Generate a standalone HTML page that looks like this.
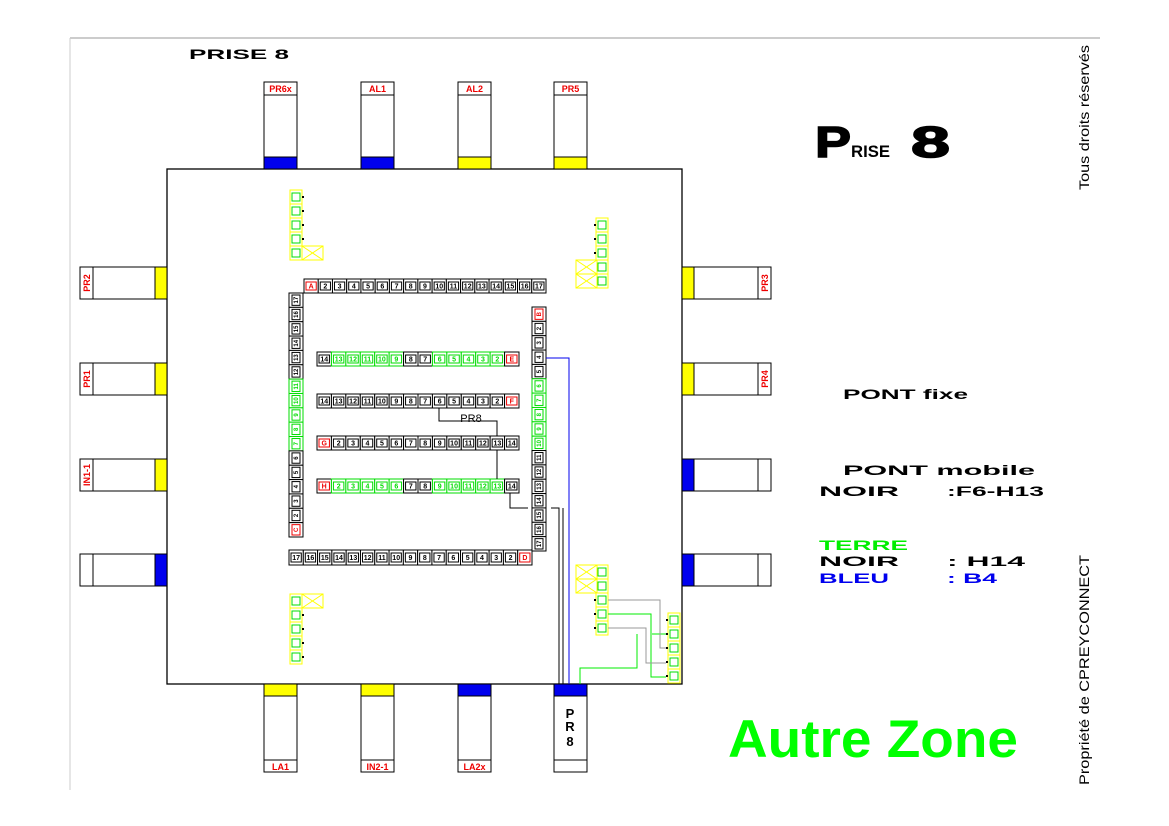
<!DOCTYPE html>
<html><head><meta charset="utf-8"><style>
html,body{margin:0;padding:0;background:#fff;}
svg{display:block;}
text{font-family:"Liberation Sans",sans-serif;}
</style></head><body>
<svg id="s" width="1169" height="826" viewBox="0 0 1169 826" xmlns="http://www.w3.org/2000/svg">
<line x1="70" y1="38" x2="1100" y2="38" stroke="#999" stroke-width="1"/>
<line x1="70" y1="38" x2="70" y2="790" stroke="#ccc" stroke-width="1"/>
<rect x="167" y="169" width="515" height="515" fill="none" stroke="#000" stroke-width="1.3"/>
<text x="189" y="59" font-size="14" font-weight="bold" textLength="100" lengthAdjust="spacingAndGlyphs">PRISE 8</text>
<text x="815" y="157" font-size="44" font-weight="bold" textLength="36" lengthAdjust="spacingAndGlyphs" stroke="#000" stroke-width="1.5">P</text>
<text x="851" y="157" font-size="17" font-weight="bold" textLength="39" lengthAdjust="spacingAndGlyphs">RISE</text>
<text x="911" y="157" font-size="44" font-weight="bold" textLength="39" lengthAdjust="spacingAndGlyphs" stroke="#000" stroke-width="1.5">8</text>
<text x="843" y="399" font-size="14" font-weight="bold" textLength="125" lengthAdjust="spacingAndGlyphs">PONT fixe</text>
<text x="843" y="475" font-size="14" font-weight="bold" textLength="192" lengthAdjust="spacingAndGlyphs">PONT mobile</text>
<text x="819" y="496" font-size="14" font-weight="bold" textLength="80" lengthAdjust="spacingAndGlyphs">NOIR</text>
<text x="947" y="496" font-size="14" font-weight="bold" textLength="97" lengthAdjust="spacingAndGlyphs">:F6-H13</text>
<text x="819" y="550" font-size="14" font-weight="bold" fill="#00ee00" textLength="89" lengthAdjust="spacingAndGlyphs">TERRE</text>
<text x="819" y="566" font-size="14" font-weight="bold" textLength="80" lengthAdjust="spacingAndGlyphs">NOIR</text>
<text x="947" y="566" font-size="14" font-weight="bold" textLength="78" lengthAdjust="spacingAndGlyphs">: H14</text>
<text x="819" y="583" font-size="14" font-weight="bold" fill="#0000ee" textLength="70" lengthAdjust="spacingAndGlyphs">BLEU</text>
<text x="947" y="583" font-size="14" font-weight="bold" fill="#0000ee" textLength="50" lengthAdjust="spacingAndGlyphs">: B4</text>
<text x="728" y="757" font-size="53" font-weight="bold" fill="#00ff00" textLength="290" lengthAdjust="spacingAndGlyphs">Autre Zone</text>
<text transform="translate(1089,190) rotate(-90)" font-size="14" textLength="145" lengthAdjust="spacingAndGlyphs">Tous droits réservés</text>
<text transform="translate(1089,785) rotate(-90)" font-size="14" textLength="230" lengthAdjust="spacingAndGlyphs">Propriété de CPREYCONNECT</text>
<text x="471" y="422" font-size="11" text-anchor="middle">PR8</text>
<g id="g"></g>
</svg>
<script>
var g=document.getElementById('g'),h='';
function R(x,y,w,hh,f,s,sw){h+='<rect x="'+x+'" y="'+y+'" width="'+w+'" height="'+hh+'" fill="'+(f||'none')+'" stroke="'+(s||'#000')+'" stroke-width="'+(sw||1)+'"/>';}
function L(p,c,w){h+='<polyline points="'+p+'" fill="none" stroke="'+c+'" stroke-width="'+(w||1)+'"/>';}
function T(x,y,t,c,sz,extra){h+='<text x="'+x+'" y="'+y+'" font-size="'+sz+'" fill="'+c+'" text-anchor="middle" font-weight="bold" '+(extra||'')+'>'+t+'</text>';}
var Y='#ffff00',B='#0000ee';
[[264,'PR6x',B],[361,'AL1',B],[458,'AL2',Y],[554,'PR5',Y]].forEach(function(a){R(a[0],82,33,13,'#fff');R(a[0],95,33,62,'#fff');R(a[0],157,33,12,a[2]);T(a[0]+16.5,92,a[1],'#e00',9);});
[[264,'LA1',Y],[361,'IN2-1',Y],[458,'LA2x',B],[554,'',B]].forEach(function(a){R(a[0],684,33,12,a[2]);R(a[0],696,33,64,'#fff');R(a[0],760,33,12,'#fff');T(a[0]+16.5,770,a[1],'#e00',9);});
T(570,718,'P','#000',13);T(570,731,'R','#000',13);T(570,746,'8','#000',13);
[[267,'PR2',Y],[363,'PR1',Y],[459,'IN1-1',Y],[554,'',B]].forEach(function(a){R(80,a[0],13,32,'#fff');R(93,a[0],62,32,'#fff');R(155,a[0],12,32,a[2]);T(0,0,a[1],'#e00',9,'transform="translate(90,'+(a[0]+16)+') rotate(-90)"');});
[[267,'PR3',Y],[363,'PR4',Y],[459,'',B],[554,'',B]].forEach(function(a){R(682,a[0],12,32,a[2]);R(694,a[0],64,32,'#fff');R(758,a[0],13,32,'#fff');T(0,0,a[1],'#e00',9,'transform="translate(768,'+(a[0]+16)+') rotate(-90)"');});
function C(x,y,w,hh,lab,col,vert){
 var c=col=='r'?'#e00':(col=='g'?'#00dd00':'#000');var sc=col=='g'?'#00dd00':'#000';
 R(x,y,w,hh,'#fff',sc,1);
 if(vert){R(x+3,y+2,w-6,hh-4,'none',c,1);T(0,0,lab,c,6,'transform="translate('+(x+w/2+2)+','+(y+hh/2)+') rotate(-90)" font-weight="normal"');}
 else{R(x+2,y+3,w-4,hh-6,'none',c,1);T(x+w/2,y+hh/2+2.5,lab,c,7,'font-weight="normal"');}
}
var i,w;
w=242/17;for(i=0;i<17;i++)C(304+i*w,279,w,14,i==0?'A':i+1,i==0?'r':'k');
w=244/17;for(i=0;i<17;i++){var n=17-i;C(289,293+i*w,14,w,i==16?'C':n,i==16?'r':(n>=7&&n<=11?'g':'k'),1);}
for(i=0;i<17;i++){var n=i+1;C(532,307+i*w,14,w,i==0?'B':n,i==0?'r':(n>=6&&n<=10?'g':'k'),1);}
w=243/17;for(i=0;i<17;i++){var n=17-i;C(289+i*w,550,w,15,i==16?'D':n,i==16?'r':'k');}
w=202/14;
for(i=0;i<14;i++){var n=14-i;C(317+i*w,352,w,14,i==13?'E':n,i==13?'r':((n>=9&&n<=13)||(n>=2&&n<=6)?'g':'k'));}
for(i=0;i<14;i++){var n=14-i;C(317+i*w,394,w,14,i==13?'F':n,i==13?'r':'k');}
for(i=0;i<14;i++){var n=i+1;C(317+i*w,436,w,14,i==0?'G':n,i==0?'r':'k');}
for(i=0;i<14;i++){var n=i+1;C(317+i*w,479,w,14,i==0?'H':n,i==0?'r':((n>=2&&n<=6)||(n>=9&&n<=13)?'g':'k'));}
function Gp(x,y,n,side,cx,cy,nc){for(var k=0;k<n;k++){R(x,y+k*14,12,14,'#fff',Y,1);R(x+2,y+k*14+3,8,8,'none','#00dd00',1);h+='<rect x="'+(side>0?x+12:x-2)+'" y="'+(y+k*14+6)+'" width="2" height="2" fill="#000"/>';}
 for(var k=0;k<nc;k++){R(cx,cy+k*14,21,14,'#fff',Y,1);L(cx+','+(cy+k*14)+' '+(cx+21)+','+(cy+k*14+14),Y);L(cx+','+(cy+k*14+14)+' '+(cx+21)+','+(cy+k*14),Y);}}
Gp(290,190,5,1,302,246,1);
Gp(596,218,5,-1,576,260,2);
Gp(290,594,5,1,302,594,1);
Gp(596,565,5,-1,576,565,2);
Gp(668,613,5,-1,0,0,0);
L('439,408 439,421 497,421 497,436','#000');
L('497,450 497,479','#000');
L('510,493 510,508 528,508','#000');
L('551,508 559,508 559,684','#000');
L('563,508 563,684','#000');
L('546,358 569,358 569,684',B);
L('608,614 651,614 651,677 666,677','#00ee00');
L('580,684 580,668 637,668 637,634','#00ee00');
L('652,634 666,634','#00ee00');
L('608,628 646,628 646,663 666,663','#999');
L('608,600 660,600 660,648 666,648','#999');
g.innerHTML=h;
</script>
</body></html>
